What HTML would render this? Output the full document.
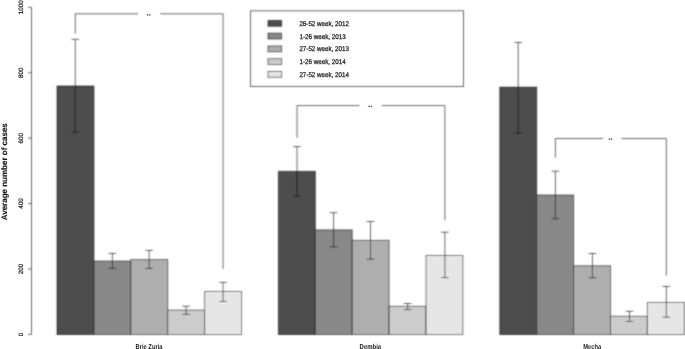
<!DOCTYPE html><html><head><meta charset="utf-8"><style>html,body{margin:0;padding:0;background:#fff;}svg{display:block;}#w{width:685px;height:349px;filter:grayscale(1);}text{font-family:"Liberation Sans",sans-serif;}</style></head><body>
<div id="w"><svg width="685" height="349" viewBox="0 0 685 349" text-rendering="geometricPrecision">
<defs><filter id="bl" x="0" y="0" width="685" height="349" filterUnits="userSpaceOnUse"><feConvolveMatrix order="3" kernelMatrix="0.0400 0.1200 0.0400 0.1200 0.3600 0.1200 0.0400 0.1200 0.0400" edgeMode="duplicate" preserveAlpha="false"/></filter></defs>
<rect x="0" y="0" width="685" height="349" fill="#fff"/>
<g filter="url(#bl)">
<rect x="57.00" y="86.00" width="36.90" height="248.50" fill="#4D4D4D" stroke="rgba(0,0,0,0.58)" stroke-width="1"/>
<rect x="93.90" y="261.10" width="36.90" height="73.40" fill="#888888" stroke="rgba(0,0,0,0.58)" stroke-width="1"/>
<rect x="130.80" y="259.60" width="36.90" height="74.90" fill="#AEAEAE" stroke="rgba(0,0,0,0.58)" stroke-width="1"/>
<rect x="167.70" y="310.10" width="36.90" height="24.40" fill="#CCCCCC" stroke="rgba(0,0,0,0.58)" stroke-width="1"/>
<rect x="204.60" y="291.50" width="36.90" height="43.00" fill="#E6E6E6" stroke="rgba(0,0,0,0.58)" stroke-width="1"/>
<rect x="278.40" y="171.40" width="36.90" height="163.10" fill="#4D4D4D" stroke="rgba(0,0,0,0.58)" stroke-width="1"/>
<rect x="315.30" y="229.90" width="36.90" height="104.60" fill="#888888" stroke="rgba(0,0,0,0.58)" stroke-width="1"/>
<rect x="352.20" y="240.40" width="36.90" height="94.10" fill="#AEAEAE" stroke="rgba(0,0,0,0.58)" stroke-width="1"/>
<rect x="389.10" y="306.30" width="36.90" height="28.20" fill="#CCCCCC" stroke="rgba(0,0,0,0.58)" stroke-width="1"/>
<rect x="426.00" y="255.50" width="36.90" height="79.00" fill="#E6E6E6" stroke="rgba(0,0,0,0.58)" stroke-width="1"/>
<rect x="499.80" y="87.15" width="36.90" height="247.35" fill="#4D4D4D" stroke="rgba(0,0,0,0.58)" stroke-width="1"/>
<rect x="536.70" y="195.00" width="36.90" height="139.50" fill="#888888" stroke="rgba(0,0,0,0.58)" stroke-width="1"/>
<rect x="573.60" y="265.80" width="36.90" height="68.70" fill="#AEAEAE" stroke="rgba(0,0,0,0.58)" stroke-width="1"/>
<rect x="610.50" y="316.30" width="36.90" height="18.20" fill="#CCCCCC" stroke="rgba(0,0,0,0.58)" stroke-width="1"/>
<rect x="647.40" y="302.50" width="36.90" height="32.00" fill="#E6E6E6" stroke="rgba(0,0,0,0.58)" stroke-width="1"/>
<path d="M75.25,39.30V132.30M71.45,39.30H79.05M71.45,132.30H79.05" stroke="rgba(0,0,0,0.58)" stroke-width="1" fill="none"/>
<path d="M112.35,253.40V268.40M108.55,253.40H116.15M108.55,268.40H116.15" stroke="rgba(0,0,0,0.58)" stroke-width="1" fill="none"/>
<path d="M149.20,250.40V268.40M145.40,250.40H153.00M145.40,268.40H153.00" stroke="rgba(0,0,0,0.58)" stroke-width="1" fill="none"/>
<path d="M186.10,306.20V314.40M182.30,306.20H189.90M182.30,314.40H189.90" stroke="rgba(0,0,0,0.58)" stroke-width="1" fill="none"/>
<path d="M223.05,282.40V301.50M219.25,282.40H226.85M219.25,301.50H226.85" stroke="rgba(0,0,0,0.58)" stroke-width="1" fill="none"/>
<path d="M297.00,146.60V196.00M293.20,146.60H300.80M293.20,196.00H300.80" stroke="rgba(0,0,0,0.58)" stroke-width="1" fill="none"/>
<path d="M333.60,212.70V246.90M329.80,212.70H337.40M329.80,246.90H337.40" stroke="rgba(0,0,0,0.58)" stroke-width="1" fill="none"/>
<path d="M370.50,221.50V259.20M366.70,221.50H374.30M366.70,259.20H374.30" stroke="rgba(0,0,0,0.58)" stroke-width="1" fill="none"/>
<path d="M407.70,303.50V309.60M403.90,303.50H411.50M403.90,309.60H411.50" stroke="rgba(0,0,0,0.58)" stroke-width="1" fill="none"/>
<path d="M444.90,232.20V277.60M441.10,232.20H448.70M441.10,277.60H448.70" stroke="rgba(0,0,0,0.58)" stroke-width="1" fill="none"/>
<path d="M518.20,42.45V132.90M514.40,42.45H522.00M514.40,132.90H522.00" stroke="rgba(0,0,0,0.58)" stroke-width="1" fill="none"/>
<path d="M555.40,171.20V218.70M551.60,171.20H559.20M551.60,218.70H559.20" stroke="rgba(0,0,0,0.58)" stroke-width="1" fill="none"/>
<path d="M592.40,253.50V277.80M588.60,253.50H596.20M588.60,277.80H596.20" stroke="rgba(0,0,0,0.58)" stroke-width="1" fill="none"/>
<path d="M629.50,311.30V321.50M625.70,311.30H633.30M625.70,321.50H633.30" stroke="rgba(0,0,0,0.58)" stroke-width="1" fill="none"/>
<path d="M666.30,286.40V317.20M662.50,286.40H670.10M662.50,317.20H670.10" stroke="rgba(0,0,0,0.58)" stroke-width="1" fill="none"/>
<path d="M75.25,33.50V13.80H138.00M160.20,13.80H223.05V268.90" stroke="rgba(0,0,0,0.58)" stroke-width="1" fill="none"/>
<path d="M297.00,138.00V105.60H359.50M381.80,105.60H444.90V220.20" stroke="rgba(0,0,0,0.58)" stroke-width="1" fill="none"/>
<path d="M555.40,157.60V138.50H603.10M621.50,138.50H666.30V275.50" stroke="rgba(0,0,0,0.58)" stroke-width="1" fill="none"/>
<path d="M31.5,7.3V334.4" stroke="rgba(0,0,0,0.58)" stroke-width="1" fill="none"/>
<path d="M28,334.40H31.5" stroke="rgba(0,0,0,0.58)" stroke-width="1" fill="none"/>
<path d="M28,268.98H31.5" stroke="rgba(0,0,0,0.58)" stroke-width="1" fill="none"/>
<path d="M28,203.56H31.5" stroke="rgba(0,0,0,0.58)" stroke-width="1" fill="none"/>
<path d="M28,138.14H31.5" stroke="rgba(0,0,0,0.58)" stroke-width="1" fill="none"/>
<path d="M28,72.72H31.5" stroke="rgba(0,0,0,0.58)" stroke-width="1" fill="none"/>
<path d="M28,7.30H31.5" stroke="rgba(0,0,0,0.58)" stroke-width="1" fill="none"/>
<rect x="250.5" y="10.8" width="213" height="75.7" fill="none" stroke="rgba(0,0,0,0.58)" stroke-width="1"/>
<rect x="268" y="20.45" width="13.6" height="5.8" fill="#4D4D4D" stroke="rgba(0,0,0,0.58)" stroke-width="1"/>
<rect x="268" y="33.20" width="13.6" height="5.8" fill="#888888" stroke="rgba(0,0,0,0.58)" stroke-width="1"/>
<rect x="268" y="45.95" width="13.6" height="5.8" fill="#AEAEAE" stroke="rgba(0,0,0,0.58)" stroke-width="1"/>
<rect x="268" y="58.70" width="13.6" height="5.8" fill="#CCCCCC" stroke="rgba(0,0,0,0.58)" stroke-width="1"/>
<rect x="268" y="71.45" width="13.6" height="5.8" fill="#E6E6E6" stroke="rgba(0,0,0,0.58)" stroke-width="1"/>
</g>
<ellipse cx="147.5" cy="14.8" rx="0.9" ry="0.90" fill="#666666"/>
<ellipse cx="149.7" cy="14.8" rx="0.9" ry="0.90" fill="#666666"/>
<ellipse cx="369.1" cy="106.3" rx="0.9" ry="0.90" fill="#666666"/>
<ellipse cx="371.4" cy="106.3" rx="0.9" ry="0.90" fill="#666666"/>
<ellipse cx="609.5" cy="139.1" rx="0.9" ry="0.90" fill="#666666"/>
<ellipse cx="611.6" cy="139.1" rx="0.9" ry="0.90" fill="#666666"/>
<text transform="translate(23.3,334.40) rotate(-90)" font-size="6.3" text-anchor="middle" fill="#1a1a1a" stroke="#1a1a1a" stroke-width="0.2">0</text>
<text transform="translate(23.3,268.98) rotate(-90)" font-size="6.3" text-anchor="middle" fill="#1a1a1a" stroke="#1a1a1a" stroke-width="0.2">200</text>
<text transform="translate(23.3,203.56) rotate(-90)" font-size="6.3" text-anchor="middle" fill="#1a1a1a" stroke="#1a1a1a" stroke-width="0.2">400</text>
<text transform="translate(23.3,138.14) rotate(-90)" font-size="6.3" text-anchor="middle" fill="#1a1a1a" stroke="#1a1a1a" stroke-width="0.2">600</text>
<text transform="translate(23.3,72.72) rotate(-90)" font-size="6.3" text-anchor="middle" fill="#1a1a1a" stroke="#1a1a1a" stroke-width="0.2">800</text>
<text transform="translate(23.3,7.30) rotate(-90)" font-size="6.3" text-anchor="middle" fill="#1a1a1a" stroke="#1a1a1a" stroke-width="0.2">1000</text>
<text transform="translate(7.15,171.75) rotate(-90)" font-size="8.0" font-weight="bold" text-anchor="middle" fill="#1a1a1a" stroke="#1a1a1a" stroke-width="0.15">Average number of cases</text>
<text x="135.50" y="349.2" font-size="7.2" font-weight="bold" textLength="27.0" lengthAdjust="spacingAndGlyphs" fill="#1a1a1a">Brie Zuria</text>
<text x="359.60" y="349.2" font-size="7.2" font-weight="bold" textLength="21.6" lengthAdjust="spacingAndGlyphs" fill="#1a1a1a">Dembia</text>
<text x="583.30" y="349.2" font-size="7.2" font-weight="bold" textLength="17.8" lengthAdjust="spacingAndGlyphs" fill="#1a1a1a">Mecha</text>
<text x="299.4" y="25.95" font-size="6.9" textLength="49.6" lengthAdjust="spacingAndGlyphs" fill="#1a1a1a" stroke="#1a1a1a" stroke-width="0.25">28-52 week, 2012</text>
<text x="299.4" y="38.70" font-size="6.9" textLength="46.4" lengthAdjust="spacingAndGlyphs" fill="#1a1a1a" stroke="#1a1a1a" stroke-width="0.25">1-26 week, 2013</text>
<text x="299.4" y="51.45" font-size="6.9" textLength="49.6" lengthAdjust="spacingAndGlyphs" fill="#1a1a1a" stroke="#1a1a1a" stroke-width="0.25">27-52 week, 2013</text>
<text x="299.4" y="64.20" font-size="6.9" textLength="46.4" lengthAdjust="spacingAndGlyphs" fill="#1a1a1a" stroke="#1a1a1a" stroke-width="0.25">1-26 week, 2014</text>
<text x="299.4" y="76.95" font-size="6.9" textLength="49.6" lengthAdjust="spacingAndGlyphs" fill="#1a1a1a" stroke="#1a1a1a" stroke-width="0.25">27-52 week, 2014</text>
</svg></div></body></html>
